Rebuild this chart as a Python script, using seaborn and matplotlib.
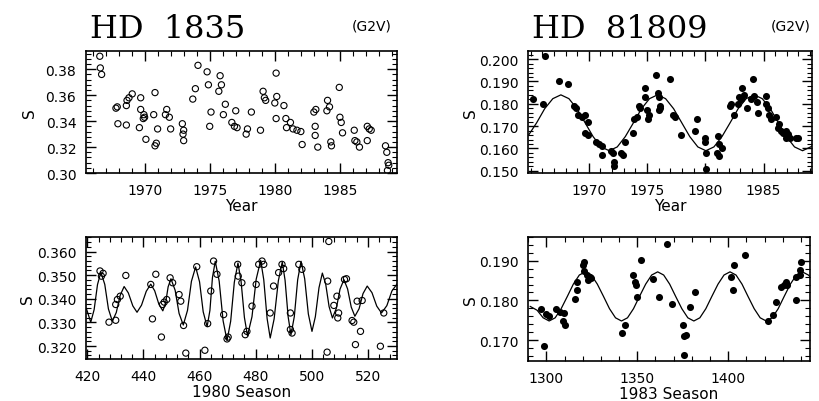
import numpy as np
import pandas as pd
import matplotlib
matplotlib.use("Agg")
import matplotlib.pyplot as plt
import seaborn as sns
from matplotlib.ticker import MultipleLocator, FixedLocator, FormatStrFormatter

# HD 1835, long term (year, S)
hd1835_year = [1966.56, 1966.6, 1966.7, 1967.8, 1967.9, 1967.95, 1968.6, 1968.6, 1968.65, 1968.8,
               1969.05, 1969.7, 1969.7, 1969.6, 1969.95, 1970.0, 1969.9, 1970.1, 1970.7, 1970.8,
               1970.8, 1970.9, 1971.0, 1971.6, 1971.7, 1971.9, 1972.0, 1972.9, 1973.0, 1973.0,
               1972.95, 1973.7, 1973.9, 1974.1, 1974.8, 1974.9, 1975.1, 1975.0, 1975.8, 1975.7,
               1975.9, 1976.05, 1976.2, 1976.7, 1976.9, 1977.0, 1977.1, 1977.8, 1977.9, 1978.2,
               1978.9, 1979.1, 1979.2, 1979.3, 1980.1, 1980.15, 1980.0, 1980.1, 1980.7, 1980.85,
               1980.9, 1981.2, 1981.4, 1981.7, 1982.0, 1982.1, 1983.0, 1983.15, 1983.1, 1983.1,
               1983.3, 1984.0, 1984.05, 1984.2, 1984.3, 1984.35, 1984.95, 1985.0, 1985.1, 1985.2,
               1986.1, 1986.15, 1986.3, 1986.5, 1987.1, 1987.25, 1987.4, 1987.1, 1988.5, 1988.6,
               1988.7, 1988.65, 1988.75]
hd1835_s = [0.390, 0.381, 0.376, 0.350, 0.351, 0.338, 0.337, 0.352, 0.356, 0.358,
            0.361, 0.358, 0.349, 0.335, 0.345, 0.343, 0.342, 0.326, 0.345, 0.362,
            0.321, 0.323, 0.334, 0.345, 0.349, 0.343, 0.334, 0.338, 0.333, 0.325,
            0.330, 0.357, 0.365, 0.383, 0.378, 0.368, 0.347, 0.336, 0.375, 0.363,
            0.368, 0.345, 0.353, 0.339, 0.336, 0.348, 0.335, 0.330, 0.334, 0.347,
            0.333, 0.363, 0.358, 0.356, 0.377, 0.359, 0.354, 0.342, 0.352, 0.342,
            0.335, 0.339, 0.334, 0.333, 0.332, 0.322, 0.347, 0.349, 0.336, 0.329,
            0.320, 0.348, 0.356, 0.351, 0.324, 0.321, 0.366, 0.343, 0.339, 0.331,
            0.333, 0.325, 0.324, 0.320, 0.336, 0.334, 0.333, 0.325, 0.321, 0.316,
            0.308, 0.302, 0.306]

# HD 81809, long term
hd81809_year = [1965.25, 1966.1, 1966.2, 1967.4, 1968.2, 1968.7, 1968.9, 1969.1, 1969.4, 1969.7,
                1969.9, 1969.7, 1969.9, 1970.6, 1970.85, 1971.1, 1971.1, 1971.9, 1972.1, 1972.2,
                1972.15, 1972.8, 1972.9, 1973.1, 1973.8, 1973.9, 1974.1, 1974.3, 1974.4, 1974.8,
                1974.8, 1975.0, 1975.1, 1975.2, 1975.8, 1975.9, 1976.0, 1976.1, 1976.0, 1976.15,
                1977.0, 1977.2, 1977.4, 1977.95, 1979.1, 1979.3, 1979.95, 1980.0, 1980.1, 1980.1,
                1981.1, 1981.2, 1981.0, 1981.2, 1981.4, 1982.1, 1982.2, 1982.5, 1982.8, 1982.9,
                1983.15, 1983.1, 1983.35, 1983.6, 1983.9, 1984.1, 1984.2, 1984.5, 1984.4, 1985.2,
                1985.2, 1985.35, 1985.5, 1985.6, 1986.1, 1986.3, 1986.2, 1986.5, 1986.9, 1987.1,
                1986.9, 1987.3, 1987.75, 1988.0, 1986.7]
hd81809_s = [0.182, 0.180, 0.2012, 0.190, 0.189, 0.179, 0.178, 0.175, 0.174, 0.175,
             0.172, 0.167, 0.166, 0.163, 0.162, 0.161, 0.157, 0.159, 0.158, 0.154,
             0.152, 0.158, 0.157, 0.163, 0.167, 0.173, 0.174, 0.179, 0.178, 0.187,
             0.183, 0.177, 0.173, 0.175, 0.193, 0.185, 0.183, 0.179, 0.177, 0.178,
             0.191, 0.175, 0.174, 0.166, 0.168, 0.173, 0.1645, 0.163, 0.158, 0.1507,
             0.1657, 0.162, 0.158, 0.1567, 0.160, 0.179, 0.180, 0.175, 0.180, 0.183,
             0.187, 0.182, 0.184, 0.178, 0.182, 0.191, 0.1836, 0.176, 0.181, 0.1836,
             0.180, 0.178, 0.175, 0.173, 0.174, 0.171, 0.169, 0.168, 0.168, 0.1665,
             0.1645, 0.1645, 0.1645, 0.1645, 0.167]

# HD 81809 cycle fit
fit81809_year = [1964.83, 1965.52, 1966.21, 1966.91, 1967.60, 1968.29, 1968.98, 1969.68, 1970.37,
                 1971.06, 1971.75, 1972.44, 1973.13, 1973.83, 1974.52, 1975.21, 1975.90, 1976.59,
                 1977.28, 1977.98, 1978.67, 1979.36, 1980.05, 1980.74, 1981.43, 1982.13, 1982.82,
                 1983.51, 1984.20, 1984.89, 1985.58, 1986.28, 1986.97, 1987.66, 1988.35, 1989.04,
                 1989.2]
fit81809_s = [0.1660, 0.1715, 0.1778, 0.1823, 0.1840, 0.1823, 0.1778, 0.1715, 0.1653,
              0.1607, 0.1590, 0.1607, 0.1653, 0.1715, 0.1778, 0.1823, 0.1840, 0.1823,
              0.1778, 0.1715, 0.1653, 0.1607, 0.1590, 0.1607, 0.1653, 0.1715, 0.1778,
              0.1823, 0.1840, 0.1823, 0.1778, 0.1715, 0.1653, 0.1607, 0.1590, 0.1607,
              0.1612]

# HD 1835, 1980 season (day, S)
s1980_day = [424.5, 425.0, 425.6, 427.7, 430.1, 430.1, 430.7, 431.7, 433.7, 443.2,
             444.4, 442.6, 446.4, 446.8, 447.4, 448.3, 449.5, 450.4, 452.7, 453.3,
             454.3, 455.1, 459.0, 461.9, 462.9, 464.0, 465.0, 466.2, 468.6, 469.8,
             470.2, 473.6, 473.8, 475.1, 476.9, 476.3, 478.7, 480.2, 481.1, 482.3,
             482.9, 485.2, 486.4, 488.2, 489.4, 490.0, 492.4, 492.4, 493.0, 495.4,
             496.5, 505.7, 506.1, 509.0, 509.3, 509.6, 511.7, 512.4, 515.0, 516.2,
             515.6, 517.4, 524.5, 525.7, 505.5, 507.9, 518.0, 514.4]
s1980_s = [0.3518, 0.3496, 0.3508, 0.3301, 0.3309, 0.3376, 0.3397, 0.3411, 0.3499, 0.3315,
           0.3504, 0.3461, 0.3238, 0.3376, 0.3386, 0.3397, 0.3489, 0.3468, 0.3418, 0.3390,
           0.3287, 0.3170, 0.3536, 0.3182, 0.3295, 0.3433, 0.3560, 0.3504, 0.3333, 0.3230,
           0.3238, 0.3546, 0.3496, 0.3468, 0.3262, 0.3248, 0.3369, 0.3461, 0.3546, 0.3560,
           0.3546, 0.3340, 0.3454, 0.3511, 0.3546, 0.3528, 0.3340, 0.3270, 0.3255, 0.3546,
           0.3525, 0.3475, 0.3643, 0.3411, 0.3319, 0.3340, 0.3482, 0.3485, 0.3301, 0.3390,
           0.3206, 0.3262, 0.3199, 0.3340, 0.3174, 0.3372, 0.3393, 0.3308]

# rotation fit for the 1980 season
fit1980_day = [419.6, 421.2, 422.4, 423.6, 424.8, 426.2, 427.5, 428.9, 430.3, 431.7,
               433.1, 434.6, 436.2, 437.7, 439.3, 441.0, 442.6, 444.0, 445.5, 446.9,
               447.9, 448.8, 449.8, 451.3, 452.7, 454.2, 455.7, 457.1, 458.6, 460.0,
               461.3, 462.7, 463.7, 464.6, 465.6, 467.0, 468.4, 469.8, 471.1, 472.4,
               473.7, 474.8, 476.0, 477.1, 478.7, 480.2, 481.8, 482.9, 484.1, 485.2,
               486.6, 488.1, 489.5, 490.5, 491.6, 492.6, 493.8, 495.0, 496.2, 497.5,
               498.8, 500.1, 501.3, 502.6, 503.8, 505.0, 506.2, 507.4, 508.8, 510.1,
               511.5, 512.8, 514.1, 515.4, 516.9, 518.3, 519.8, 521.5, 523.2, 524.9,
               526.8, 528.6, 530.5]
fit1980_s = [0.3360, 0.3301, 0.3354, 0.3460, 0.3513, 0.3461, 0.3357, 0.3305, 0.3342, 0.3415,
             0.3452, 0.3425, 0.3370, 0.3343, 0.3373, 0.3432, 0.3462, 0.3434, 0.3377, 0.3349,
             0.3383, 0.3451, 0.3485, 0.3436, 0.3338, 0.3289, 0.3351, 0.3474, 0.3535, 0.3472,
             0.3345, 0.3282, 0.3351, 0.3490, 0.3559, 0.3475, 0.3307, 0.3223, 0.3305, 0.3470,
             0.3552, 0.3475, 0.3321, 0.3244, 0.3324, 0.3483, 0.3563, 0.3481, 0.3316, 0.3234,
             0.3315, 0.3476, 0.3556, 0.3479, 0.3324, 0.3247, 0.3325, 0.3481, 0.3559, 0.3485,
             0.3336, 0.3262, 0.3324, 0.3447, 0.3509, 0.3462, 0.3367, 0.3319, 0.3360, 0.3441,
             0.3481, 0.3442, 0.3365, 0.3326, 0.3358, 0.3422, 0.3454, 0.3426, 0.3369, 0.3340,
             0.3371, 0.3433, 0.3464]

# HD 81809, 1983 season
s1983_day = [1298.9, 1297.1, 1299.5, 1301.3, 1305.5, 1307.7, 1309.1, 1310.4, 1309.9, 1315.9,
             1316.8, 1316.8, 1319.9, 1320.5, 1320.8, 1322.3, 1322.7, 1324.1, 1324.5, 1341.5,
             1343.3, 1347.9, 1348.8, 1349.4, 1350.1, 1352.1, 1358.9, 1362.2, 1368.9, 1375.3,
             1375.7, 1376.8, 1375.9, 1379.0, 1381.7, 1366.2, 1401.8, 1402.7, 1403.1, 1409.1,
             1421.9, 1424.7, 1426.5, 1429.3, 1430.5, 1431.6, 1432.2, 1437.5, 1437.5, 1439.3,
             1440.2, 1439.6]
s1983_s = [0.1686, 0.1777, 0.1766, 0.1760, 0.1779, 0.1770, 0.1749, 0.1738, 0.1769, 0.1804,
           0.1825, 0.1846, 0.1889, 0.1897, 0.1873, 0.1865, 0.1851, 0.1859, 0.1857, 0.1718,
           0.1737, 0.1863, 0.1846, 0.1838, 0.1808, 0.1901, 0.1853, 0.1808, 0.1790, 0.1737,
           0.1711, 0.1713, 0.1662, 0.1783, 0.1821, 0.1943, 0.1859, 0.1827, 0.1889, 0.1914,
           0.1747, 0.1762, 0.1796, 0.1834, 0.1840, 0.1846, 0.1840, 0.1800, 0.1859, 0.1865,
           0.1897, 0.1876]

fit1983_day = [1291.0, 1294.9, 1298.2, 1301.5, 1304.8, 1308.1, 1311.5, 1314.8, 1318.1, 1321.4,
               1324.7, 1328.0, 1331.4, 1334.7, 1338.0, 1341.3, 1344.6, 1347.9, 1351.2, 1354.6,
               1357.9, 1361.2, 1364.5, 1367.8, 1371.1, 1374.5, 1377.8, 1381.1, 1384.4, 1387.7,
               1391.0, 1394.4, 1397.7, 1401.0, 1404.3, 1407.6, 1410.9, 1414.3, 1417.6, 1420.9,
               1424.2, 1427.5, 1430.8, 1434.2, 1437.5, 1440.8, 1444.1, 1445.0]
fit1983_s = [0.1785, 0.1775, 0.1756, 0.1748, 0.1756, 0.1779, 0.1810, 0.1841, 0.1864, 0.1872,
             0.1864, 0.1841, 0.1810, 0.1779, 0.1756, 0.1748, 0.1756, 0.1779, 0.1810, 0.1841,
             0.1864, 0.1872, 0.1864, 0.1841, 0.1810, 0.1779, 0.1756, 0.1748, 0.1756, 0.1779,
             0.1810, 0.1841, 0.1864, 0.1872, 0.1864, 0.1841, 0.1810, 0.1779, 0.1756, 0.1748,
             0.1756, 0.1779, 0.1810, 0.1841, 0.1864, 0.1872, 0.1864, 0.1860]

year_ticks = [1970, 1975, 1980, 1985]

sns.set_style("ticks", {"xtick.direction": "in", "ytick.direction": "in"})
plt.rcParams["font.family"] = ["DejaVu Sans"]
plt.rcParams["axes.linewidth"] = 1.2
plt.rcParams["text.color"] = "black"
plt.rcParams["axes.labelcolor"] = "black"

fig = plt.figure(figsize=(8.19, 4.02), dpi=100)
ax_tl = fig.add_axes([0.105, 0.567, 0.380, 0.3035])
ax_tr = fig.add_axes([0.645, 0.567, 0.347, 0.3035])
ax_bl = fig.add_axes([0.105, 0.1045, 0.380, 0.3035])
ax_br = fig.add_axes([0.645, 0.0995, 0.344, 0.3085])

open_kw = dict(marker="o", s=20, facecolor="none", edgecolor="black", linewidth=0.8)
fill_kw = dict(marker="o", s=26, color="black", edgecolor="black", linewidth=0)

sns.scatterplot(x=hd1835_year, y=hd1835_s, ax=ax_tl, **open_kw)
sns.scatterplot(x=hd81809_year, y=hd81809_s, ax=ax_tr, **fill_kw)
sns.lineplot(x=fit81809_year, y=fit81809_s, ax=ax_tr, color="black", lw=0.9,
             sort=False, estimator=None)
sns.scatterplot(x=s1980_day, y=s1980_s, ax=ax_bl, **open_kw)
sns.lineplot(x=fit1980_day, y=fit1980_s, ax=ax_bl, color="black", lw=0.9,
             sort=False, estimator=None)
sns.scatterplot(x=s1983_day, y=s1983_s, ax=ax_br, **fill_kw)
sns.lineplot(x=fit1983_day, y=fit1983_s, ax=ax_br, color="black", lw=0.9,
             sort=False, estimator=None)

settings = [
    (ax_tl, (1965.5, 1989.4), (0.300, 0.394), year_ticks, 1, 0.02, 0.004, "%.2f", "Year", 6),
    (ax_tr, (1964.8, 1989.2), (0.149, 0.2036), year_ticks, 1, 0.01, 0.002, "%.3f", "Year", 1),
    (ax_bl, (419.5, 530.5), (0.3145, 0.3662), 20, 4, 0.01, 0.002, "%.3f", "1980 Season", 1),
    (ax_br, (1290, 1445), (0.1647, 0.196), 50, 10, 0.01, 0.002, "%.3f", "1983 Season", 0.5),
]
for ax, xl, yl, xmaj, xmin, ymaj, ymin, yfmt, xlab, ypad in settings:
    ax.set_xlim(*xl)
    ax.set_ylim(*yl)
    if isinstance(xmaj, list):
        ax.xaxis.set_major_locator(FixedLocator(xmaj))
    else:
        ax.xaxis.set_major_locator(MultipleLocator(xmaj))
    ax.xaxis.set_minor_locator(MultipleLocator(xmin))
    ax.yaxis.set_major_locator(MultipleLocator(ymaj))
    ax.yaxis.set_minor_locator(MultipleLocator(ymin))
    ax.yaxis.set_major_formatter(FormatStrFormatter(yfmt))
    ax.tick_params(which="both", direction="in", top=True, right=True, colors="black",
                   labelcolor="black", labelsize=10)
    ax.tick_params(which="major", length=7, width=1.0, pad=7)
    ax.tick_params(which="minor", length=3.5, width=0.8)
    ax.set_xlabel(xlab, fontsize=11, labelpad=1)
    ax.set_ylabel("S", fontsize=11, labelpad=ypad)
    for sp in ax.spines.values():
        sp.set_color("black")
        sp.set_visible(True)

fig.text(0.110, 0.905, "HD  1835", family="DejaVu Serif", fontsize=23)
fig.text(0.478, 0.925, "(G2V)", fontsize=10, ha="right")
fig.text(0.650, 0.905, "HD  81809", family="DejaVu Serif", fontsize=23)
fig.text(0.990, 0.925, "(G2V)", fontsize=10, ha="right")

fig.savefig("out.png", dpi=100, facecolor="white")
